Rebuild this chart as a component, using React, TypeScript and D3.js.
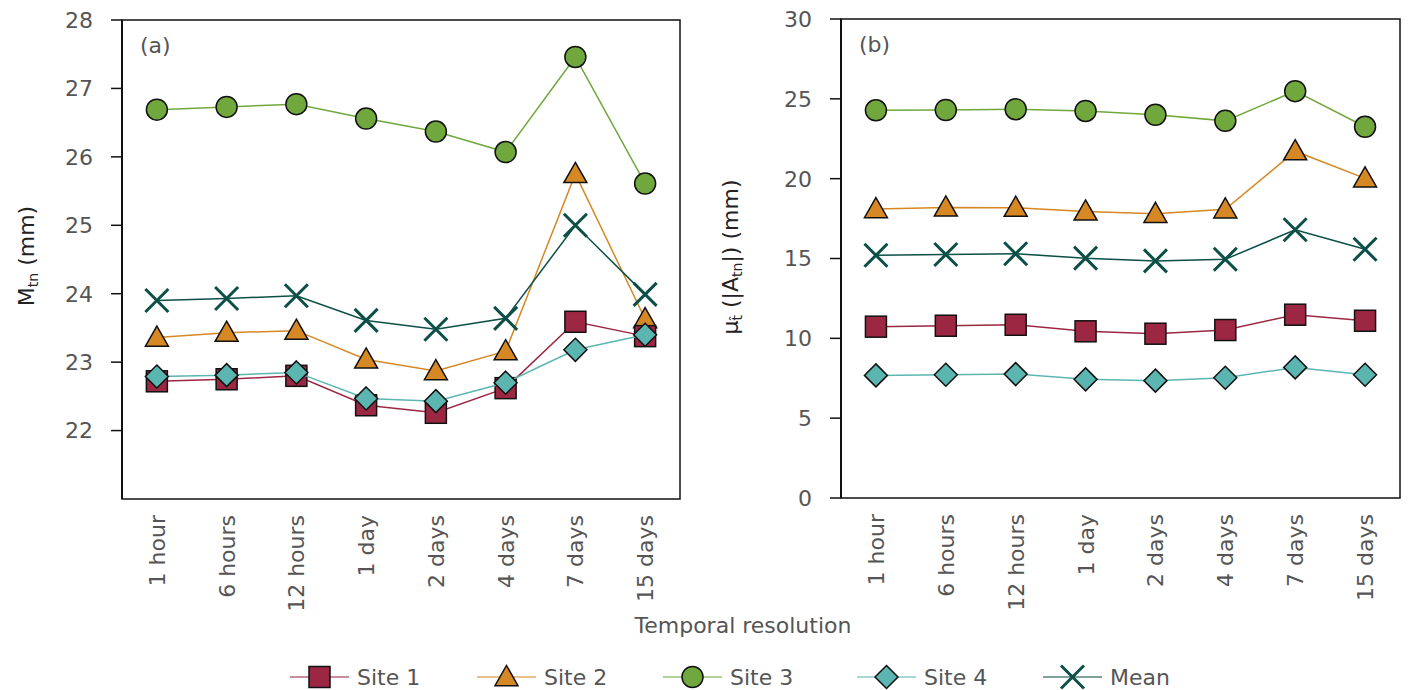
import React from "react";
import * as d3 from "d3";

const categories = ["1 hour", "6 hours", "12 hours", "1 day", "2 days", "4 days", "7 days", "15 days"];

// Panel (a): M_tn (mm)
const site1A = [22.72, 22.75, 22.80, 22.37, 22.26, 22.62, 23.59, 23.38];
const site2A = [23.36, 23.43, 23.46, 23.04, 22.87, 23.16, 25.75, 23.63];
const site3A = [26.69, 26.73, 26.77, 26.56, 26.37, 26.07, 27.46, 25.61];
const site4A = [22.79, 22.81, 22.85, 22.47, 22.43, 22.70, 23.18, 23.40];
const meanA = [23.90, 23.93, 23.97, 23.61, 23.48, 23.64, 25.00, 23.99];

// Panel (b): mean |A_tn| (mm)
const site1B = [10.73, 10.79, 10.85, 10.44, 10.29, 10.52, 11.48, 11.10];
const site2B = [18.10, 18.20, 18.18, 17.95, 17.80, 18.08, 21.72, 20.02];
const site3B = [24.28, 24.30, 24.35, 24.24, 24.00, 23.62, 25.48, 23.25];
const site4B = [7.68, 7.72, 7.76, 7.43, 7.35, 7.53, 8.18, 7.72];
const meanB = [15.20, 15.25, 15.30, 15.02, 14.85, 14.95, 16.80, 15.58];

const yTicksA = [22, 23, 24, 25, 26, 27, 28];
const yTicksB = [0, 5, 10, 15, 20, 25, 30];

type Shape = "square" | "triangle" | "circle" | "diamond" | "cross";
interface Series { name: string; color: string; shape: Shape; a: number[]; b: number[]; }

const series: Series[] = [
  { name: "Site 1", color: "#9c2743", shape: "square", a: site1A, b: site1B },
  { name: "Site 2", color: "#d68824", shape: "triangle", a: site2A, b: site2B },
  { name: "Site 3", color: "#71a83e", shape: "circle", a: site3A, b: site3B },
  { name: "Site 4", color: "#5bb6b1", shape: "diamond", a: site4A, b: site4B },
  { name: "Mean", color: "#0c4f47", shape: "cross", a: meanA, b: meanB },
];
const drawOrder = ["Site 3", "Site 2", "Mean", "Site 1", "Site 4"];

const FONT = "'DejaVu Sans', sans-serif";
const GREY = "#555";
const FS = 22;

function Marker({ shape, x, y, color }: { shape: Shape; x: number; y: number; color: string }) {
  const s = 10.5;
  if (shape === "square")
    return <rect x={x - s} y={y - s} width={2 * s} height={2 * s} fill={color} stroke="#111" strokeWidth={1.5} />;
  if (shape === "circle")
    return <circle cx={x} cy={y} r={s} fill={color} stroke="#111" strokeWidth={1.5} />;
  if (shape === "triangle") {
    const h = 11.5;
    return <path d={`M${x},${y - h}L${x + h},${y + h * 0.75}L${x - h},${y + h * 0.75}Z`} fill={color} stroke="#111" strokeWidth={1.5} />;
  }
  if (shape === "diamond") {
    const d = 11.5;
    return <path d={`M${x},${y - d}L${x + d},${y}L${x},${y + d}L${x - d},${y}Z`} fill={color} stroke="#111" strokeWidth={1.5} />;
  }
  const c = 11.5;
  return <path d={`M${x - c},${y - c}L${x + c},${y + c}M${x - c},${y + c}L${x + c},${y - c}`} stroke={color} strokeWidth={3} fill="none" />;
}

function Panel({ left, right, top, bottom, domain, ticks, key2, label }: {
  left: number; right: number; top: number; bottom: number; domain: [number, number]; ticks: number[]; key2: "a" | "b"; label: string;
}) {
  const x = d3.scalePoint<string>().domain(categories).range([left, right]).padding(0.5);
  const y = d3.scaleLinear().domain(domain).range([bottom, top]);
  const line = d3.line<number>().x((_, i) => x(categories[i])!).y((v) => y(v));
  return (
    <g>
      <rect x={left} y={top} width={right - left} height={bottom - top} fill="none" stroke="#111" strokeWidth={1.5} />
      <line x1={left} x2={left} y1={top} y2={bottom} stroke="#111" strokeWidth={2} />
      {ticks.map((t) => (
        <g key={t}>
          <line x1={left - 11} x2={left} y1={y(t)} y2={y(t)} stroke="#111" strokeWidth={1.5} />
          <text x={left - 29} y={y(t)} dy="0.36em" textAnchor="end" fontSize={FS} fill={GREY} fontFamily={FONT}>{t}</text>
        </g>
      ))}
      {categories.map((c) => (
        <text key={c} transform={`translate(${x(c)! + 8},${bottom + 16}) rotate(-90)`} textAnchor="end" fontSize={FS} fill={GREY} fontFamily={FONT}>{c}</text>
      ))}
      <text x={left + 18} y={top + 33} fontSize={FS} fill={GREY} fontFamily={FONT}>{label}</text>
      {drawOrder.map((n) => {
        const s = series.find((q) => q.name === n)!;
        const vals = s[key2];
        return (
          <g key={n}>
            <path d={line(vals)!} fill="none" stroke={s.color} strokeWidth={1.5} />
            {vals.map((v, i) => (
              <Marker key={i} shape={s.shape} x={x(categories[i])!} y={y(v)} color={s.color} />
            ))}
          </g>
        );
      })}
    </g>
  );
}

export default function App() {
  const legendX = [290, 477, 663, 857, 1043];
  return (
    <svg width={1412} height={690} style={{ position: "absolute", left: 0, top: 0, background: "#fff" }}>
      <Panel left={122} right={680} top={20} bottom={499} domain={[21, 28]} ticks={yTicksA} key2="a" label="(a)" />
      <Panel left={841} right={1400} top={19} bottom={498} domain={[0, 30]} ticks={yTicksB} key2="b" label="(b)" />
      <text transform="translate(34,256) rotate(-90)" textAnchor="middle" fontSize={FS} fill="#222" fontFamily={FONT}>
        M<tspan fontSize={14} dy={4}>tn</tspan><tspan dy={-4}> (mm)</tspan>
      </text>
      <text transform="translate(738,257) rotate(-90)" textAnchor="middle" fontSize={FS} fill="#222" fontFamily={FONT}>
        μ<tspan fontSize={14} dy={4}>{"t\u0302"}</tspan><tspan dy={-4}> (|A</tspan><tspan fontSize={14} dy={4}>tn</tspan><tspan dy={-4}>|) (mm)</tspan>
      </text>
      <text x={743} y={633} textAnchor="middle" fontSize={FS} fill={GREY} fontFamily={FONT}>Temporal resolution</text>
      {series.map((s, i) => {
        const lx = legendX[i];
        return (
          <g key={s.name}>
            <line x1={lx} x2={lx + 59} y1={677} y2={677} stroke={s.color} strokeWidth={1.5} opacity={0.7} />
            <Marker shape={s.shape} x={lx + 29.5} y={677} color={s.color} />
            <text x={lx + 67} y={677} dy="0.36em" fontSize={FS} fill={GREY} fontFamily={FONT}>{s.name}</text>
          </g>
        );
      })}
    </svg>
  );
}
